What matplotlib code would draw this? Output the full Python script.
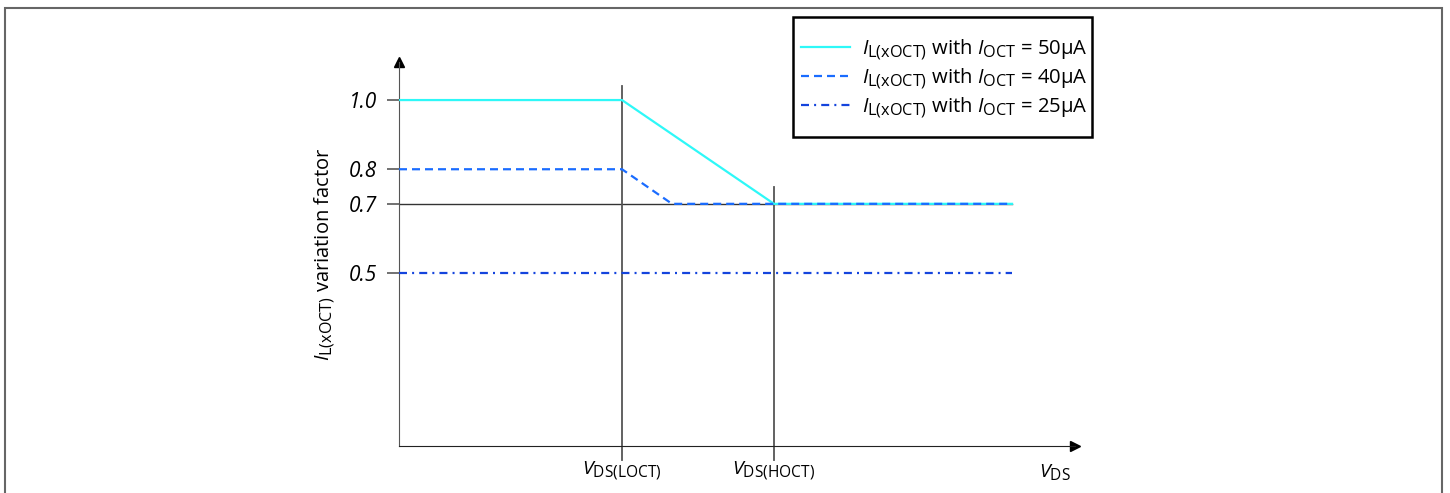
import matplotlib.pyplot as plt
import matplotlib._mathtext as mathtext_internal
from matplotlib.patches import Rectangle

plt.rcParams['font.family'] = ['Open Sans', 'DejaVu Sans']
plt.rcParams['mathtext.fontset'] = 'custom'
plt.rcParams['mathtext.rm'] = 'Open Sans'
plt.rcParams['mathtext.it'] = 'Open Sans:italic'
# subscripts in the original are only a bit smaller than the main text
mathtext_internal.SHRINK_FACTOR = 0.8

# data (x in arbitrary units, origin at the y axis)
x_loct = 2.23
x_hoct = 3.75
x_knee = 2.73
x_end = 6.13
x_max = 6.76
y_max = 1.11

x_50 = [0, x_loct, x_hoct, x_end]
y_50 = [1.0, 1.0, 0.7, 0.7]
x_40 = [0, x_loct, x_knee, x_end]
y_40 = [0.8, 0.8, 0.7, 0.7]
x_25 = [0, x_end]
y_25 = [0.5, 0.5]

yticks = [1.0, 0.8, 0.7, 0.5]
ytick_labels = ['1.0', '0.8', '0.7', '0.5']
xticks = [x_loct, x_hoct]
xtick_labels = [r'$\mathit{V}_{\mathrm{DS(LOCT)}}$', r'$\mathit{V}_{\mathrm{DS(HOCT)}}$']
labels = [r'$\mathit{I}_{\mathrm{L(xOCT)}}$ with $\mathit{I}_{\mathrm{OCT}}$ = 50µA',
          r'$\mathit{I}_{\mathrm{L(xOCT)}}$ with $\mathit{I}_{\mathrm{OCT}}$ = 40µA',
          r'$\mathit{I}_{\mathrm{L(xOCT)}}$ with $\mathit{I}_{\mathrm{OCT}}$ = 25µA']

c50 = '#2ef8f8'
c40 = '#1a6cff'
c25 = '#1444dd'

W, H = 1450, 493
fig = plt.figure(figsize=(W / 100, H / 100), dpi=100)
# frame around whole picture
fig.add_artist(Rectangle((5 / W, -0.01), 1437 / W, (H - 8 + 5) / H, transform=fig.transFigure,
                         fill=False, edgecolor='#666666', lw=1.5))
# legend box (drawn by hand: padding in the original is not uniform)
fig.add_artist(Rectangle((793 / W, 1 - 137 / H), 299 / W, 120 / H, transform=fig.transFigure,
                         fill=False, edgecolor='black', lw=1.8, zorder=5))

ax = fig.add_axes([399 / W, (H - 446) / H, 676 / W, 384 / H])
ax.set_xlim(0, x_max)
ax.set_ylim(0, y_max)
for s in ['top', 'right']:
    ax.spines[s].set_visible(False)
ax.spines['left'].set_color('#555555')
ax.spines['bottom'].set_color('#222222')
ax.plot(1, 0, '>', color='black', ms=7, transform=ax.transAxes, clip_on=False)
ax.plot(0, 1, '^', color='black', ms=7, transform=ax.transAxes, clip_on=False)

# guide lines
ax.plot([0, x_end], [0.7, 0.7], color='#333333', lw=1, zorder=1)
ax.plot([x_loct, x_loct], [-0.04, 1.04], color='#555555', lw=1.3, clip_on=False, zorder=1)
ax.plot([x_hoct, x_hoct], [-0.04, 0.75], color='#555555', lw=1.3, clip_on=False, zorder=1)

ax.plot(x_50, y_50, color=c50, lw=1.6, label=labels[0], zorder=3)
ax.plot(x_40, y_40, color=c40, lw=1.6, ls=(0, (3.6, 2.25)), label=labels[1], zorder=4)
ax.plot(x_25, y_25, color=c25, lw=1.6, ls=(0, (3.6, 2.3, 0.9, 2.3)), label=labels[2], zorder=3)

ax.set_yticks(yticks)
ax.set_yticklabels(ytick_labels, fontstyle='italic', fontsize=15)
ax.tick_params(axis='y', length=9, color='#666666', width=1.3, pad=7)
ax.set_xticks(xticks)
ax.set_xticklabels(xtick_labels, fontsize=14)
ax.tick_params(axis='x', length=0, pad=10)
ax.text(x_max - 0.2, -0.075, r'$\mathit{V}_{\mathrm{DS}}$', fontsize=14, ha='center', va='center')

ax.set_ylabel(r'$\mathit{I}_{\mathrm{L(xOCT)}}$ variation factor', fontsize=14.5, labelpad=8)

leg = fig.legend(loc='center left', bbox_to_anchor=(801 / W, 1 - 79 / H), fontsize=14.6,
                 frameon=False, handlelength=2.4, borderpad=0, labelspacing=0.25,
                 handletextpad=0.62, borderaxespad=0)

fig.savefig('out.png', dpi=100)
